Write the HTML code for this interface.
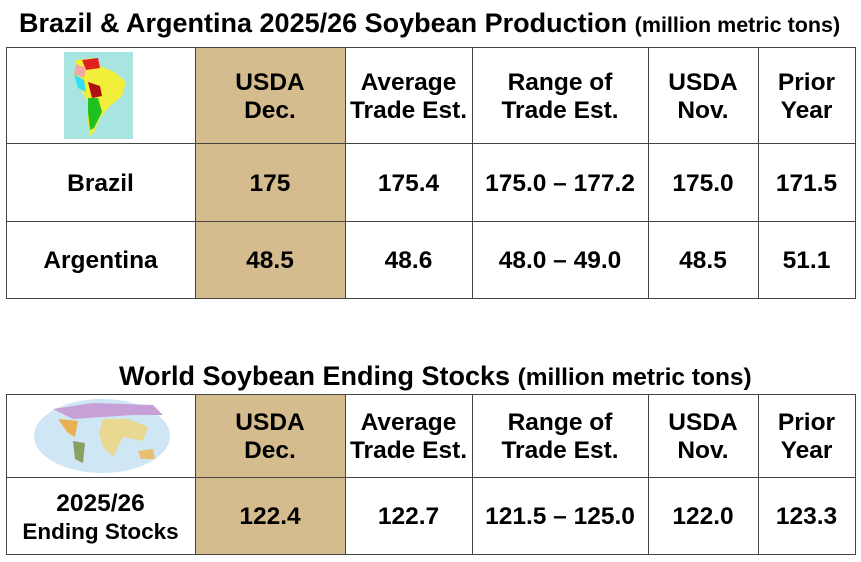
<!DOCTYPE html><html><head><style>
body{margin:0;width:861px;height:562px;background:#fff;position:relative;overflow:hidden;font-family:"Liberation Sans",Arial,sans-serif;font-weight:bold;color:#000}
.t{position:absolute;white-space:nowrap}
.c{position:absolute;display:flex;align-items:center;justify-content:center;text-align:center;font-size:24.5px;line-height:28px;box-sizing:border-box;padding-top:3px}
.v{position:absolute;background:#444;width:1px}
.h{position:absolute;background:#444;height:1px}
.tan{position:absolute;background:#d4bc8e}
</style></head><body>
<div class="t" style="left:19px;top:8px;font-size:27px">Brazil &amp; Argentina 2025/26 Soybean Production <span style="font-size:21.5px">(million metric tons)</span></div>
<div class="t" style="left:119px;top:361px;font-size:27px">World Soybean Ending Stocks <span style="font-size:24.5px">(million metric tons)</span></div>

<div class="tan" style="left:195px;top:47px;width:150px;height:251px"></div>
<div class="tan" style="left:195px;top:394px;width:150px;height:160px"></div>

<div class="h" style="left:6px;top:47px;width:850px"></div>
<div class="h" style="left:6px;top:143px;width:850px"></div>
<div class="h" style="left:6px;top:221px;width:850px"></div>
<div class="h" style="left:6px;top:298px;width:850px"></div>
<div class="v" style="left:6px;top:47px;height:252px"></div>
<div class="v" style="left:195px;top:47px;height:252px"></div>
<div class="v" style="left:345px;top:47px;height:252px"></div>
<div class="v" style="left:472px;top:47px;height:252px"></div>
<div class="v" style="left:648px;top:47px;height:252px"></div>
<div class="v" style="left:758px;top:47px;height:252px"></div>
<div class="v" style="left:855px;top:47px;height:252px"></div>
<div class="h" style="left:6px;top:394px;width:850px"></div>
<div class="h" style="left:6px;top:477px;width:850px"></div>
<div class="h" style="left:6px;top:554px;width:850px"></div>
<div class="v" style="left:6px;top:394px;height:161px"></div>
<div class="v" style="left:195px;top:394px;height:161px"></div>
<div class="v" style="left:345px;top:394px;height:161px"></div>
<div class="v" style="left:472px;top:394px;height:161px"></div>
<div class="v" style="left:648px;top:394px;height:161px"></div>
<div class="v" style="left:758px;top:394px;height:161px"></div>
<div class="v" style="left:855px;top:394px;height:161px"></div>

<svg style="position:absolute;left:64px;top:52px" width="69" height="87" viewBox="0 0 69 87">
<rect width="69" height="87" fill="#a8e4e0"/>
<path d="M12 8 L30 6 L36 14 L50 20 L62 30 L58 44 L46 54 L36 66 L30 80 L26 84 L24 70 L24 50 L16 36 L10 24 Z" fill="#f2ef3a"/>
<path d="M18 8 L34 6 L36 16 L22 18 Z" fill="#e02020"/>
<path d="M12 12 L22 16 L20 26 L10 22 Z" fill="#f0a8a8"/>
<path d="M10 22 L20 28 L22 40 L14 36 Z" fill="#30e0f0"/>
<path d="M24 30 L36 34 L38 44 L28 46 Z" fill="#b01010"/>
<path d="M24 46 L34 46 L38 60 L30 76 L26 78 L24 60 Z" fill="#20c020"/>
</svg>
<svg style="position:absolute;left:33px;top:397px" width="138" height="78" viewBox="0 0 138 78">
<ellipse cx="69" cy="39" rx="68" ry="37" fill="#cfe6f4"/>
<path d="M20 12 L60 6 L120 8 L130 18 L100 18 L70 20 L40 22 Z" fill="#c8a0d8"/>
<path d="M25 22 L45 24 L42 40 L35 36 Z" fill="#e8b050"/>
<path d="M40 44 L52 46 L50 66 L42 62 Z" fill="#8aa060"/>
<path d="M70 22 L95 22 L115 30 L110 44 L90 40 L80 60 L70 50 L66 36 Z" fill="#e8d890"/>
<path d="M105 54 L120 52 L122 62 L108 62 Z" fill="#e8c070"/>
</svg>

<div class="c" style="left:195px;top:47px;width:150px;height:96px">USDA<br>Dec.</div>
<div class="c" style="left:345px;top:47px;width:127px;height:96px">Average<br>Trade Est.</div>
<div class="c" style="left:472px;top:47px;width:176px;height:96px">Range of<br>Trade Est.</div>
<div class="c" style="left:648px;top:47px;width:110px;height:96px">USDA<br>Nov.</div>
<div class="c" style="left:758px;top:47px;width:97px;height:96px">Prior<br>Year</div>

<div class="c" style="left:6px;top:143px;width:189px;height:78px">Brazil</div>
<div class="c" style="left:195px;top:143px;width:150px;height:78px">175</div>
<div class="c" style="left:345px;top:143px;width:127px;height:78px">175.4</div>
<div class="c" style="left:472px;top:143px;width:176px;height:78px">175.0 – 177.2</div>
<div class="c" style="left:648px;top:143px;width:110px;height:78px">175.0</div>
<div class="c" style="left:758px;top:143px;width:97px;height:78px">171.5</div>

<div class="c" style="left:6px;top:221px;width:189px;height:77px">Argentina</div>
<div class="c" style="left:195px;top:221px;width:150px;height:77px">48.5</div>
<div class="c" style="left:345px;top:221px;width:127px;height:77px">48.6</div>
<div class="c" style="left:472px;top:221px;width:176px;height:77px">48.0 – 49.0</div>
<div class="c" style="left:648px;top:221px;width:110px;height:77px">48.5</div>
<div class="c" style="left:758px;top:221px;width:97px;height:77px">51.1</div>

<div class="c" style="left:195px;top:394px;width:150px;height:83px">USDA<br>Dec.</div>
<div class="c" style="left:345px;top:394px;width:127px;height:83px">Average<br>Trade Est.</div>
<div class="c" style="left:472px;top:394px;width:176px;height:83px">Range of<br>Trade Est.</div>
<div class="c" style="left:648px;top:394px;width:110px;height:83px">USDA<br>Nov.</div>
<div class="c" style="left:758px;top:394px;width:97px;height:83px">Prior<br>Year</div>

<div class="c" style="left:6px;top:477px;width:189px;height:77px;flex-direction:column"><span>2025/26</span><span style="font-size:22.5px;line-height:27px">Ending Stocks</span></div>
<div class="c" style="left:195px;top:477px;width:150px;height:77px">122.4</div>
<div class="c" style="left:345px;top:477px;width:127px;height:77px">122.7</div>
<div class="c" style="left:472px;top:477px;width:176px;height:77px">121.5 – 125.0</div>
<div class="c" style="left:648px;top:477px;width:110px;height:77px">122.0</div>
<div class="c" style="left:758px;top:477px;width:97px;height:77px">123.3</div>
</body></html>
